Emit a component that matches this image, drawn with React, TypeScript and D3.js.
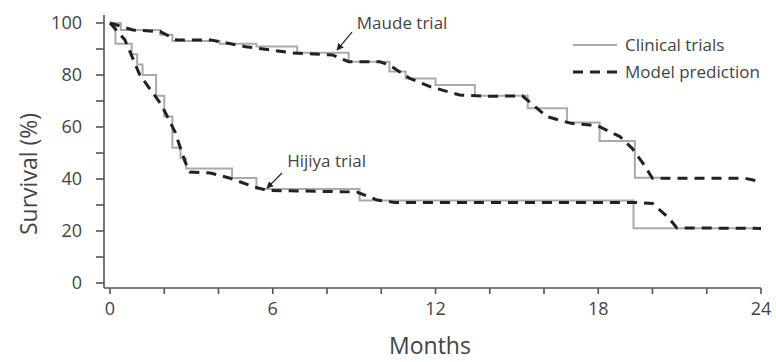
import React, { useRef, useEffect } from "react";
import * as d3 from "d3";

// survival curves: [month, survival %]
const maudeClinical: [number, number][] = [
  [0, 100], [0.4, 97.3], [1.85, 95.5], [2.3, 93.1], [4.05, 92], [5.4, 91],
  [6.9, 88.6], [8.8, 85.1], [10.3, 81.3], [10.9, 78.7], [12.0, 76.2],
  [13.45, 72], [15.4, 67.2], [16.85, 61.7], [18.05, 54.6], [19.35, 40.5],
  [20.3, 40.5],
];
const maudeModel: [number, number][] = [
  [0, 100], [0.85, 97.3], [1.85, 96.7], [2.45, 93.5], [3.7, 93.5], [5.0, 90.9],
  [6.7, 88.5], [8.2, 87.7], [8.8, 85.1], [9.95, 85.1], [10.3, 83.8],
  [11.05, 78.7], [11.8, 75.5], [12.9, 72.3], [13.9, 71.8], [15.2, 72],
  [16.1, 64], [17.0, 61.4], [17.7, 60.8], [18.05, 60.1], [18.8, 56.3],
  [19.25, 51.8], [19.65, 46], [20.0, 40.3], [23.4, 40.3], [24, 39],
];
const hijiyaClinical: [number, number][] = [
  [0, 100], [0.2, 92], [0.8, 88], [1.0, 84], [1.2, 80], [1.7, 72], [2.0, 64],
  [2.3, 52], [2.6, 48], [2.8, 44], [4.5, 40.4], [5.4, 36.2], [9.2, 31.7],
  [19.3, 21.1], [24, 21.1],
];
const hijiyaModel: [number, number][] = [
  [0, 100], [0.55, 93.5], [1.1, 80], [1.9, 68.5], [2.4, 58], [2.77, 46.6],
  [2.95, 42.7], [3.7, 42.3], [4.4, 40.4], [5.3, 37], [5.8, 35.6], [9.1, 35],
  [9.85, 31.9], [10.5, 31], [19.3, 31], [20, 30.6], [20.6, 25], [20.9, 21.2],
  [24, 21],
];

const xTicks = [0, 2, 4, 6, 8, 10, 12, 14, 16, 18, 20, 22, 24];
const xTickLabels = [0, 6, 12, 18, 24];
const yTicks = [0, 10, 20, 30, 40, 50, 60, 70, 80, 90, 100];
const yTickLabels = [0, 20, 40, 60, 80, 100];

// annotation arrows: text anchor, arrow tail, arrow tip (data space)
const annotations = [
  { label: "Maude trial", text: [9.1, 97.7], tail: [8.92, 96.5], tip: [8.37, 89.6] },
  { label: "Hijiya trial", text: [6.53, 44.6], tail: [6.34, 42.3], tip: [5.79, 36.5] },
];

const legendItems = ["Clinical trials", "Model prediction"];

const W = 776;
const H = 362;
const FONT = "'Open Sans', sans-serif";
const AXIS = "#555";
const TEXT = "#444";
const GRAY = "#aaa";
const DARK = "#222";

export default function App() {
  const svgRef = useRef<SVGSVGElement>(null);

  useEffect(() => {
    const svg = d3.select(svgRef.current);
    svg.selectAll("*").remove();

    const x = d3.scaleLinear().domain([0, 24]).range([110, 761]);
    const y = d3.scaleLinear().domain([0, 100]).range([283, 23]);
    const axisX = 104; // y axis sits a bit left of month 0
    const axisY = 288; // x axis sits a bit below 0 %

    svg
      .append("defs")
      .append("marker")
      .attr("id", "arrow")
      .attr("viewBox", "0 0 10 10")
      .attr("refX", 9)
      .attr("refY", 5)
      .attr("markerWidth", 7)
      .attr("markerHeight", 7)
      .attr("markerUnits", "userSpaceOnUse")
      .attr("orient", "auto")
      .append("path")
      .attr("d", "M0,0 L10,5 L0,10 z")
      .attr("fill", DARK);

    // axes
    const ax = svg.append("g").attr("stroke", AXIS).attr("stroke-width", 1.6);
    ax.append("line").attr("x1", axisX).attr("x2", axisX).attr("y1", 15).attr("y2", axisY);
    ax.append("line").attr("x1", axisX).attr("x2", x(24)).attr("y1", axisY).attr("y2", axisY);
    ax.selectAll(".yt")
      .data(yTicks)
      .join("line")
      .attr("x1", axisX - 8)
      .attr("x2", axisX)
      .attr("y1", (d) => y(d))
      .attr("y2", (d) => y(d));
    ax.selectAll(".xt")
      .data(xTicks)
      .join("line")
      .attr("x1", (d) => x(d))
      .attr("x2", (d) => x(d))
      .attr("y1", axisY)
      .attr("y2", axisY + 6);

    svg
      .append("g")
      .selectAll("text")
      .data(yTickLabels)
      .join("text")
      .attr("x", 82)
      .attr("y", (d) => y(d))
      .attr("dy", "0.35em")
      .attr("text-anchor", "end")
      .attr("font-family", FONT)
      .attr("font-size", 18)
      .attr("fill", TEXT)
      .text((d) => d);

    svg
      .append("g")
      .selectAll("text")
      .data(xTickLabels)
      .join("text")
      .attr("x", (d) => x(d))
      .attr("y", 315)
      .attr("text-anchor", "middle")
      .attr("font-family", FONT)
      .attr("font-size", 18)
      .attr("fill", TEXT)
      .text((d) => d);

    svg
      .append("text")
      .attr("x", 430)
      .attr("y", 354)
      .attr("text-anchor", "middle")
      .attr("font-family", FONT)
      .attr("font-size", 23)
      .attr("fill", TEXT)
      .text("Months");

    svg
      .append("text")
      .attr("transform", "translate(37,174) rotate(-90)")
      .attr("text-anchor", "middle")
      .attr("font-family", FONT)
      .attr("font-size", 23)
      .attr("fill", TEXT)
      .text("Survival (%)");

    // curves
    const step = d3
      .line<[number, number]>()
      .x((d) => x(d[0]))
      .y((d) => y(d[1]))
      .curve(d3.curveStepAfter);
    const smooth = d3
      .line<[number, number]>()
      .x((d) => x(d[0]))
      .y((d) => y(d[1]));

    [maudeClinical, hijiyaClinical].forEach((data) => {
      svg
        .append("path")
        .attr("d", step(data))
        .attr("fill", "none")
        .attr("stroke", GRAY)
        .attr("stroke-width", 2);
    });
    [maudeModel, hijiyaModel].forEach((data) => {
      svg
        .append("path")
        .attr("d", smooth(data))
        .attr("fill", "none")
        .attr("stroke", DARK)
        .attr("stroke-width", 3)
        .attr("stroke-dasharray", "10,7");
    });

    // annotations
    annotations.forEach((a) => {
      svg
        .append("line")
        .attr("x1", x(a.tail[0]))
        .attr("y1", y(a.tail[1]))
        .attr("x2", x(a.tip[0]))
        .attr("y2", y(a.tip[1]))
        .attr("stroke", DARK)
        .attr("stroke-width", 1.2)
        .attr("marker-end", "url(#arrow)");
      svg
        .append("text")
        .attr("x", x(a.text[0]))
        .attr("y", y(a.text[1]))
        .attr("font-family", FONT)
        .attr("font-size", 17)
        .attr("fill", TEXT)
        .text(a.label);
    });

    // legend
    const lg = svg.append("g");
    legendItems.forEach((label, i) => {
      const ly = 45 + i * 27;
      lg.append("line")
        .attr("x1", 573)
        .attr("x2", 617)
        .attr("y1", ly)
        .attr("y2", ly)
        .attr("stroke", i === 0 ? GRAY : DARK)
        .attr("stroke-width", i === 0 ? 2 : 3)
        .attr("stroke-dasharray", i === 0 ? null : "10,7");
      lg.append("text")
        .attr("x", 625)
        .attr("y", ly + 6)
        .attr("font-family", FONT)
        .attr("font-size", 17)
        .attr("fill", TEXT)
        .text(label);
    });
  }, []);

  return (
    <svg
      ref={svgRef}
      width={W}
      height={H}
      style={{ position: "absolute", left: 0, top: 0, background: "#fff" }}
    />
  );
}
